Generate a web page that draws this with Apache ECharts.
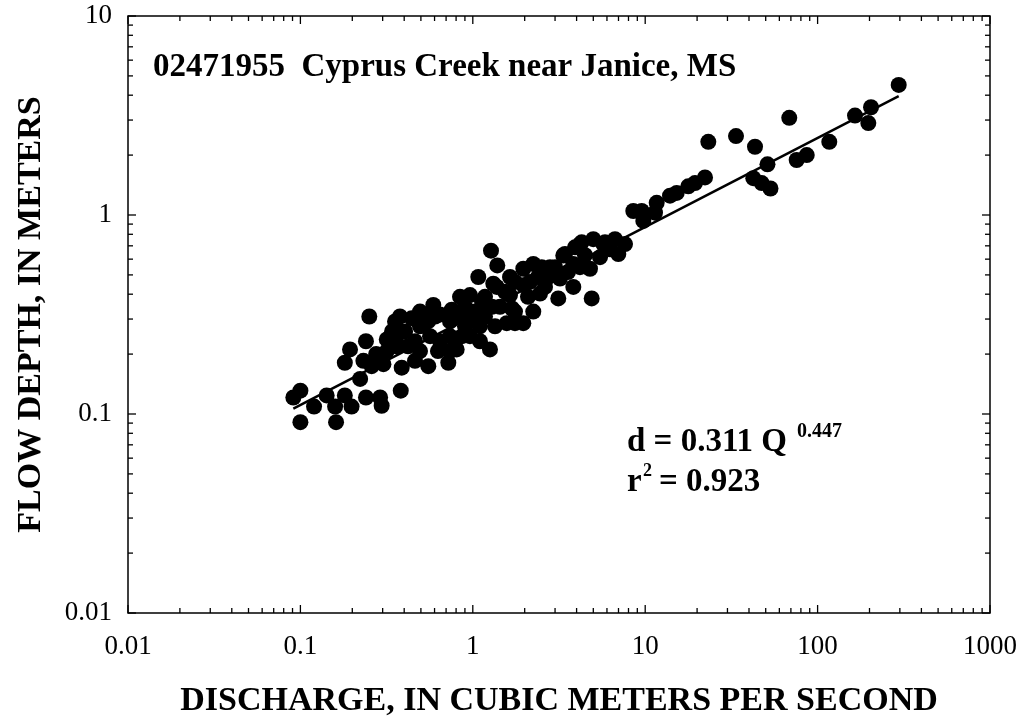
<!DOCTYPE html>
<html>
<head>
<meta charset="utf-8">
<script src="https://cdn.jsdelivr.net/npm/echarts@6/dist/echarts.min.js"></script>
<style>
  html, body { margin: 0; padding: 0; background: #fff; }
  #chart { width: 1022px; height: 723px; }
</style>
</head>
<body>
<div id="chart"></div>
<script>
// Station and fitted relation d = a * Q^b
const stationTitle = '02471955  Cyprus Creek near Janice, MS';
const fitCoef = 0.311;
const fitExp = 0.447;
const fitR2 = 0.923;

// Axis tick labels (log scales)
const xTickLabels = ['0.01', '0.1', '1', '10', '100', '1000'];
const yTickLabels = ['0.01', '0.1', '1', '10'];

// Measurements: discharge (m3/s) and flow depth (m)
const discharge = [
  0.091, 0.100, 0.100, 0.120, 0.142, 0.159, 0.161, 0.181, 0.198, 0.240,
  0.290, 0.296, 0.382, 0.222, 0.181, 0.194, 0.240, 0.251, 0.354, 0.232,
  0.259, 0.317, 0.317, 0.303, 0.387, 0.362, 0.275, 0.462, 0.360,
  1.275, 1.387, 1.076, 1.315, 0.963, 0.590, 0.755, 0.442, 1.258, 0.552,
  0.721, 0.806, 1.345, 1.100, 1.573, 0.405, 0.462, 0.494, 0.528, 0.645,
  0.843, 0.565, 0.738, 0.628, 0.494, 0.901, 0.963, 1.030, 1.177, 1.438,
  1.644, 0.901, 0.788, 0.421, 0.843, 1.177, 1.100, 0.738, 1.757, 1.376,
  0.604, 1.757,
  0.340, 0.378, 0.494, 0.550, 0.645, 0.738, 0.866, 0.963, 1.131, 1.292,
  1.537, 1.688, 2.090, 2.623, 2.804, 3.566, 4.475, 6.249, 2.389, 1.757,
  1.963, 2.243, 2.510, 3.349, 3.916, 4.282, 5.000, 5.845, 6.680, 7.636,
  6.982, 5.468, 4.784, 3.828, 3.132, 4.894, 2.243, 1.963, 2.741, 3.205,
  2.454, 1.963, 3.426, 4.186, 5.714, 3.828, 4.186, 3.000, 1.644, 2.147,
  8.531, 9.543, 9.753, 11.40, 11.66, 13.93, 15.23, 17.78, 19.45, 22.23,
  23.23, 33.63, 43.35, 42.37, 47.39, 53.3, 51.2, 68.5, 75.6, 86.5,
  116.9, 164.8, 204.1, 196.9, 295.4
];
const depth = [
  0.121, 0.131, 0.091, 0.109, 0.124, 0.109, 0.091, 0.124, 0.109, 0.121,
  0.121, 0.110, 0.131, 0.150, 0.181, 0.211, 0.232, 0.309, 0.292, 0.185,
  0.174, 0.237, 0.207, 0.178, 0.171, 0.246, 0.200, 0.185, 0.219,
  0.662, 0.558, 0.488, 0.452, 0.396, 0.353, 0.334, 0.303, 0.211, 0.174,
  0.181, 0.211, 0.276, 0.232, 0.286, 0.260, 0.232, 0.276, 0.316, 0.316,
  0.309, 0.246, 0.246, 0.207, 0.207, 0.276, 0.246, 0.327, 0.309, 0.346,
  0.396, 0.346, 0.232, 0.219, 0.388, 0.388, 0.276, 0.292, 0.327, 0.435,
  0.309, 0.286,
  0.260, 0.309, 0.327, 0.292, 0.232, 0.207, 0.246, 0.292, 0.367, 0.346,
  0.411, 0.339, 0.388, 0.435, 0.547, 0.517, 0.628, 0.672, 0.488, 0.461,
  0.537, 0.568, 0.547, 0.626, 0.688, 0.729, 0.756, 0.729, 0.756, 0.714,
  0.637, 0.614, 0.537, 0.435, 0.381, 0.381, 0.327, 0.444, 0.488, 0.479,
  0.403, 0.286, 0.637, 0.714, 0.714, 0.568, 0.547, 0.547, 0.488, 0.461,
  1.047, 1.047, 0.934, 1.027, 1.151, 1.251, 1.291, 1.393, 1.447, 1.545,
  2.331, 2.491, 2.202, 1.532, 1.447, 1.359, 1.798, 3.078, 1.889, 2.000,
  2.331, 3.160, 3.479, 2.897, 4.507
];

const xMin = Number(xTickLabels[0]), xMax = Number(xTickLabels[xTickLabels.length - 1]);
const yMin = Number(yTickLabels[0]), yMax = Number(yTickLabels[yTickLabels.length - 1]);

const points = discharge.map((q, i) => [q, depth[i]]);

// Fitted line across the range of observed discharge
const qLo = Math.min(...discharge), qHi = Math.max(...discharge);
const fitLine = [qLo, qHi].map(q => [q, fitCoef * Math.pow(q, fitExp)]);

// Major and minor (2..9) tick values per decade
function decadeTicks(labels) {
  const majors = labels.map(Number);
  const minors = [];
  for (let i = 0; i < majors.length - 1; i++) {
    for (let m = 2; m <= 9; m++) minors.push(+(majors[i] * m).toPrecision(6));
  }
  return { majors, minors };
}
const xt = decadeTicks(xTickLabels);
const yt = decadeTicks(yTickLabels);

const xTickData = xt.majors.map(v => [v, yMin, 1]).concat(xt.minors.map(v => [v, yMin, 0]));
const yTickData = yt.majors.map(v => [xMin, v, 1]).concat(yt.minors.map(v => [xMin, v, 0]));

const MAJOR_LEN = 8, MINOR_LEN = 5, TICK_W = 1.3;
const tickStyle = { stroke: '#000', lineWidth: TICK_W };

// Ticks on both bottom and top edges of the frame
function renderXTick(params, api) {
  const cs = params.coordSys;
  const px = api.coord([api.value(0), api.value(1)])[0];
  const len = api.value(2) ? MAJOR_LEN : MINOR_LEN;
  const yb = cs.y + cs.height, yt0 = cs.y;
  return {
    type: 'group',
    children: [
      { type: 'line', shape: { x1: px, y1: yb, x2: px, y2: yb - len }, style: tickStyle },
      { type: 'line', shape: { x1: px, y1: yt0, x2: px, y2: yt0 + len }, style: tickStyle }
    ]
  };
}
// Ticks on both left and right edges of the frame
function renderYTick(params, api) {
  const cs = params.coordSys;
  const py = api.coord([api.value(0), api.value(1)])[1];
  const len = api.value(2) ? MAJOR_LEN : MINOR_LEN;
  const xl = cs.x, xr = cs.x + cs.width;
  return {
    type: 'group',
    children: [
      { type: 'line', shape: { x1: xl, y1: py, x2: xl + len, y2: py }, style: tickStyle },
      { type: 'line', shape: { x1: xr, y1: py, x2: xr - len, y2: py }, style: tickStyle }
    ]
  };
}

const serif = "'Liberation Serif', 'Times New Roman', serif";
const fmt = v => String(Number(Number(v).toPrecision(6)));

const chart = echarts.init(document.getElementById('chart'), null, { renderer: 'canvas' });
chart.setOption({
  animation: false,
  backgroundColor: '#fff',
  grid: {
    left: 128, right: 32, top: 16, bottom: 103,
    show: true, borderColor: '#000', borderWidth: 1.5, backgroundColor: 'transparent'
  },
  xAxis: {
    type: 'log', logBase: 10, min: xMin, max: xMax,
    axisLine: { show: false }, axisTick: { show: false }, splitLine: { show: false },
    axisLabel: {
      formatter: fmt, margin: 20, color: '#000',
      fontFamily: serif, fontSize: 27, showMinLabel: true, showMaxLabel: true
    },
    name: 'DISCHARGE, IN CUBIC METERS PER SECOND',
    nameLocation: 'middle', nameGap: 71,
    nameTextStyle: { fontFamily: serif, fontWeight: 'bold', fontSize: 34, color: '#000' }
  },
  yAxis: {
    type: 'log', logBase: 10, min: yMin, max: yMax,
    axisLine: { show: false }, axisTick: { show: false }, splitLine: { show: false },
    axisLabel: {
      formatter: fmt, margin: 16, color: '#000',
      fontFamily: serif, fontSize: 27, showMinLabel: true, showMaxLabel: true
    },
    name: 'FLOW DEPTH, IN METERS',
    nameLocation: 'middle', nameGap: 80, nameRotate: 90,
    nameTextStyle: { fontFamily: serif, fontWeight: 'bold', fontSize: 34, color: '#000' }
  },
  graphic: [
    {
      type: 'text', left: 153, top: 51,
      style: { text: stationTitle, font: "bold 33px " + serif, fill: '#000' }
    },
    {
      type: 'text', x: 627, y: 442,
      style: { text: 'd = ' + fitCoef + ' Q', font: "bold 33px " + serif, fill: '#000', verticalAlign: 'middle' }
    },
    {
      type: 'text', x: 797, y: 432,
      style: { text: String(fitExp), font: "bold 20px " + serif, fill: '#000', verticalAlign: 'middle' }
    },
    {
      type: 'text', x: 627, y: 482,
      style: { text: 'r', font: "bold 33px " + serif, fill: '#000', verticalAlign: 'middle' }
    },
    {
      type: 'text', x: 643, y: 471,
      style: { text: '2', font: "bold 18px " + serif, fill: '#000', verticalAlign: 'middle' }
    },
    {
      type: 'text', x: 659, y: 482,
      style: { text: '= ' + fitR2, font: "bold 33px " + serif, fill: '#000', verticalAlign: 'middle' }
    }
  ],
  series: [
    {
      type: 'line', data: fitLine, symbol: 'none', silent: true, z: 3,
      lineStyle: { color: '#000', width: 2.5 }
    },
    {
      type: 'scatter', data: points, symbol: 'circle', symbolSize: 16, z: 4,
      itemStyle: { color: '#000', opacity: 1 }
    },
    {
      type: 'custom', data: xTickData, renderItem: renderXTick, silent: true, clip: false, z: 5
    },
    {
      type: 'custom', data: yTickData, renderItem: renderYTick, silent: true, clip: false, z: 5
    }
  ]
});
</script>
</body>
</html>
